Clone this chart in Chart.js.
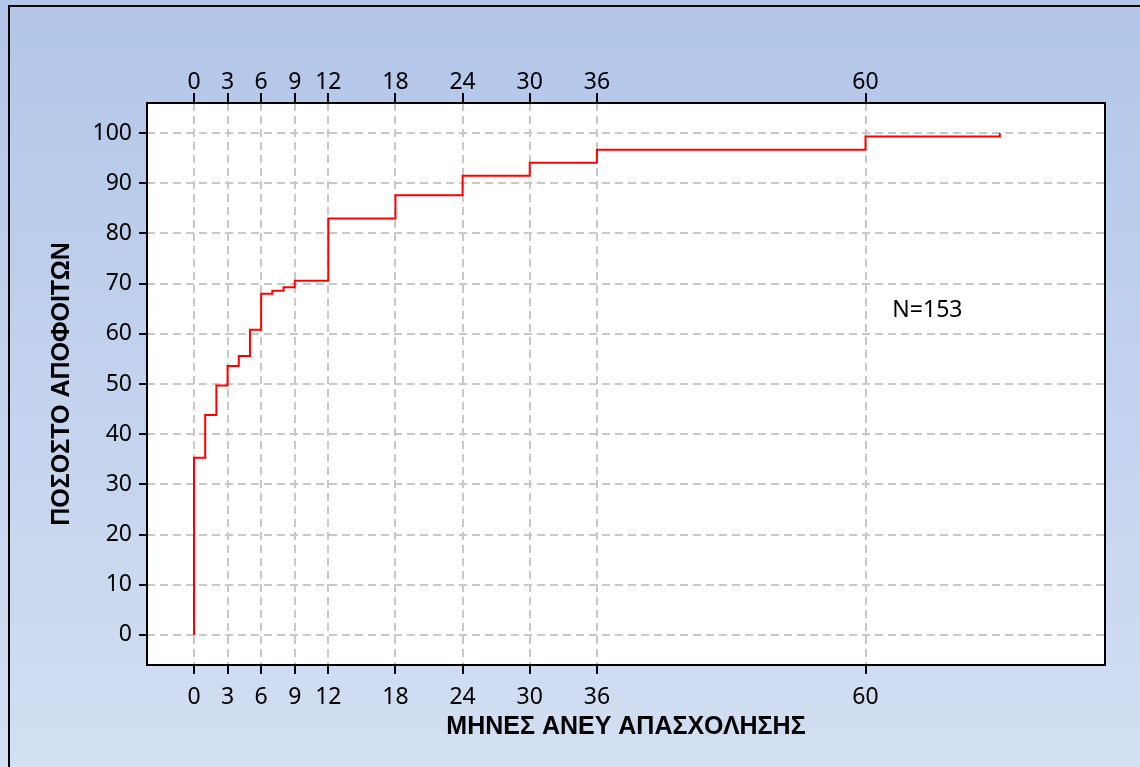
<!DOCTYPE html>
<html><head><meta charset="utf-8">
<script src="https://cdn.jsdelivr.net/npm/chart.js@4/dist/chart.umd.min.js"></script>
<style>
html,body{margin:0;padding:0;background:#d2def1;}
#wrap{position:relative;width:1140px;height:767px;background:linear-gradient(to bottom,#b2c6e9,#d3dff2);overflow:hidden}
#frame{position:absolute;left:8px;top:5px;width:1300px;height:900px;border-left:2px solid #000;border-top:2px solid #000;}
canvas{position:absolute;left:0;top:0}
</style></head>
<body><div id="wrap"><div id="frame"></div><canvas id="c" width="1140" height="767"></canvas></div>
<script>
// Cumulative step data (months without employment -> % of graduates)
const months  = [0, 0,    1,    2,    3,    4,    5,    6,    7,    8,    9,    12,   18,   24,   30,   36,   60,   72];
const percent = [0, 35.3, 43.8, 49.7, 53.6, 55.6, 60.8, 68.0, 68.6, 69.3, 70.6, 83.0, 87.6, 91.5, 94.1, 96.7, 99.3, 100];
const monthTicks = [0, 3, 6, 9, 12, 18, 24, 30, 36, 60];
const percentTicks = [0, 10, 20, 30, 40, 50, 60, 70, 80, 90, 100];
const xTitle = 'ΜΗΝΕΣ ΑΝΕΥ ΑΠΑΣΧΟΛΗΣΗΣ';
const yTitle = 'ΠΟΣΟΣΤΟ ΑΠΟΦΟΙΤΩΝ';
const noteText = 'N=153';
const notePos = {x: 62.4, y: 64.6};

const tickFont = {family: "'Noto Sans', sans-serif", size: 23};
const titleFont = {family: "'Liberation Sans', Arial, sans-serif", size: 25, weight: 'bold'};
const gridColor = '#c8c8c8';
const dash = [8, 5];

const bgPlugin = {
  id: 'bg',
  beforeDraw(chart) {
    const {ctx, chartArea: a} = chart;
    ctx.save();
    ctx.fillStyle = '#ffffff';
    ctx.fillRect(a.left, a.top, a.right - a.left, a.bottom - a.top);
    ctx.restore();
  },
  afterDraw(chart) {
    const {ctx, chartArea: a, scales} = chart;
    ctx.save();
    ctx.strokeStyle = '#000';
    ctx.lineWidth = 2;
    ctx.strokeRect(a.left, a.top, a.right - a.left, a.bottom - a.top);
    ctx.fillStyle = '#000';
    ctx.font = "23px 'Noto Sans', sans-serif";
    ctx.textAlign = 'left';
    ctx.textBaseline = 'middle';
    ctx.fillText(noteText, scales.x.getPixelForValue(notePos.x), scales.y.getPixelForValue(notePos.y));
    ctx.restore();
  }
};

const setTicks = arr => scale => { scale.ticks = arr.map(v => ({value: v})); };

new Chart(document.getElementById('c'), {
  type: 'line',
  data: {
    datasets: [{
      data: months.map((m, i) => ({x: m, y: percent[i]})),
      borderColor: '#ff0000',
      borderWidth: 2,
      stepped: 'before',
      pointRadius: 0,
      fill: false
    }]
  },
  options: {
    responsive: false,
    animation: false,
    devicePixelRatio: 1,
    layout: {padding: {left: 0, right: 35, top: 0, bottom: 0}},
    plugins: {legend: {display: false}, tooltip: {enabled: false}},
    scales: {
      x: {
        type: 'linear', position: 'bottom', min: -4.2, max: 81.4,
        afterBuildTicks: setTicks(monthTicks),
        afterFit: s => { s.height = 102; },
        ticks: {font: tickFont, color: '#000', padding: 10, maxRotation: 0, autoSkip: false},
        grid: {color: gridColor, lineWidth: 2, tickColor: '#000', tickWidth: 2, tickLength: 9},
        border: {display: false, dash: dash},
        title: {display: true, text: xTitle, font: titleFont, color: '#000', padding: {top: 0, bottom: 25}}
      },
      x2: {
        type: 'linear', position: 'top', min: -4.2, max: 81.4,
        afterBuildTicks: setTicks(monthTicks),
        afterFit: s => { s.height = 103; },
        ticks: {font: tickFont, color: '#000', padding: -3, maxRotation: 0, autoSkip: false},
        grid: {drawOnChartArea: false, color: gridColor, lineWidth: 2, tickColor: '#000', tickWidth: 2, tickLength: 10},
        border: {display: false}
      },
      y: {
        type: 'linear', position: 'left', min: -6, max: 106,
        afterBuildTicks: setTicks(percentTicks),
        afterFit: s => { s.width = 147; },
        ticks: {font: tickFont, color: '#000', padding: 7},
        grid: {color: gridColor, lineWidth: 2, tickColor: '#000', tickWidth: 2, tickLength: 8},
        border: {display: false, dash: dash},
        title: {display: true, text: yTitle, font: titleFont, color: '#000', padding: {top: 47, bottom: 0}}
      }
    }
  },
  plugins: [bgPlugin]
});
</script>
</body></html>
